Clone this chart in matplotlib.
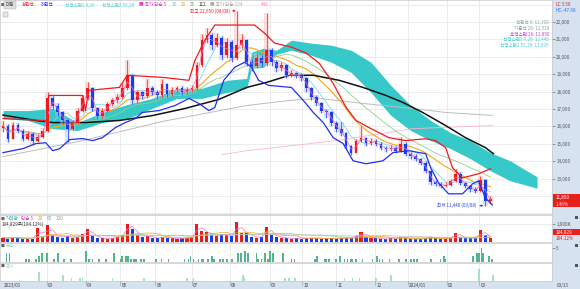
import numpy as np
import pandas as pd
import matplotlib
matplotlib.use("Agg")
import matplotlib.pyplot as plt
from matplotlib.patches import Rectangle

plt.rcParams['font.family'] = ['Noto Sans CJK KR', 'DejaVu Sans']

# ---------------- data (price samples ~every 3 trading days) ----------------
first_open = 15900
close = [16050, 15300, 16100, 15760, 15300, 15580, 15180, 15410, 15760, 17610,
         17200, 16800, 16340, 15870, 16220, 16910, 17610, 18190, 17030, 16620,
         16910, 17260, 17490, 17670, 18190, 18940, 17490, 17950, 17720, 18190,
         17950, 17780, 18420, 17840, 18070, 18190, 17950, 18070, 18190, 19510,
         20960, 21250, 20670, 21080, 20090, 20840, 19920, 20670, 20960, 19690,
         19460, 19920, 19630, 20380, 19690, 19340, 19510, 18940, 19050, 18940,
         18760, 18190, 17670, 17320, 16910, 16800, 16220, 15870, 15640, 14890,
         14490, 15180, 15350, 15060, 15180, 15010, 14780, 14720, 14780, 14600,
         15010, 14430, 14310, 14140, 13910, 13450, 12810, 12690, 12580, 12640,
         12870, 13270, 12750, 12580, 12400, 12290, 12930, 11710, 11850]
high = [16300, 16150, 16250, 16200, 15850, 15750, 15650, 15550, 15900, 17950,
        17750, 17350, 16900, 16400, 16350, 17050, 17800, 18550, 18250, 17100,
        17050, 17400, 17650, 17850, 18500, 19800, 19000, 18100, 18050, 18700,
        18300, 18100, 18700, 18500, 18250, 18350, 18300, 18250, 18400, 19700,
        21300, 21650, 21400, 21350, 21200, 21100, 20950, 22650, 21300, 21050,
        19900, 20200, 20100, 22500, 20500, 19800, 19700, 19600, 19250, 19150,
        19050, 18850, 18250, 17800, 17400, 17000, 16900, 16300, 16250, 15700,
        14950, 15300, 16050, 15400, 15350, 15250, 15100, 14900, 14950, 14850,
        15400, 15100, 14500, 14400, 14200, 14000, 13500, 12900, 12800, 12800,
        13000, 13550, 13350, 12800, 12650, 12500, 13150, 12950, 12000]
low = [15700, 15100, 15250, 15600, 15150, 15200, 14950, 15100, 15350, 15700,
       17000, 16600, 16150, 15100, 15800, 16150, 16850, 17500, 16900, 16450,
       16500, 16800, 17150, 17350, 17600, 18100, 17300, 17350, 17550, 17650,
       17800, 17550, 17700, 17700, 17750, 18000, 17800, 17850, 18000, 18100,
       19400, 20800, 20400, 20550, 19800, 19950, 19700, 19800, 20500, 19500,
       19200, 19350, 19400, 19500, 19500, 19100, 19200, 18800, 18850, 18800,
       18600, 17950, 17500, 17150, 16750, 16500, 16050, 15700, 15450, 14700,
       14350, 14450, 15100, 14900, 14950, 14850, 14650, 14550, 14600, 14450,
       14550, 14300, 14150, 14000, 13750, 13300, 12650, 12550, 12450, 12500,
       12550, 12800, 12600, 12450, 12250, 12150, 12250, 11440, 11550]
volume_k = [250, 180, 300, 200, 150, 220, 180, 780, 260, 950,
            400, 300, 250, 350, 200, 300, 450, 700, 400, 250,
            200, 180, 220, 300, 400, 1000, 750, 400, 300, 350,
            250, 200, 300, 250, 200, 180, 200, 250, 300, 1000,
            600, 550, 400, 350, 450, 400, 350, 1100, 500, 500,
            300, 250, 300, 850, 400, 300, 250, 200, 180, 200,
            150, 250, 200, 250, 180, 200, 220, 180, 250, 200,
            250, 350, 550, 300, 250, 200, 180, 150, 200, 180,
            300, 200, 150, 180, 150, 200, 300, 200, 180, 200,
            250, 500, 300, 200, 250, 200, 650, 400, 195]

# channel lines (상한선 / 하한선)
upper_x = [0, 8, 8.8, 9.2, 16, 16.6, 17.2, 23.4, 25, 32, 37.4, 38.6, 40.6, 42.6, 50.6,
           52.6, 54.6, 58, 61, 63.6, 66.4, 69, 71, 73.6, 77.6, 81, 85, 87, 89, 90.4,
           92.4, 95.6, 98]
upper_v = [16450, 16340, 16340, 17780, 17780, 16910, 18070, 18240, 18940, 18820, 18650,
           19800, 20960, 21830, 21830, 21360, 20790, 20560, 20210, 19630, 18470, 17090,
           16340, 15930, 15350, 15180, 15290, 15180, 14780, 13620, 13040, 13270, 13560]
lower_x = [0, 4, 6.6, 8.6, 10, 11.4, 13.4, 16, 18, 20, 22.6, 24.6, 26.6, 28, 31.4, 34.6,
           37.4, 39.4, 41.4, 42.6, 44.4, 46.6, 48.6, 50, 51.4, 53.4, 58, 60.4, 62.4, 64.4,
           66.4, 68.4, 70.4, 73, 76.4, 78.4, 81.6, 85, 86, 87.6, 89.6, 92.4, 94.4, 95.6,
           97, 98.4]
lower_v = [14490, 14720, 15010, 15060, 14600, 14720, 15240, 15300, 15180, 15350, 15930,
           16220, 16450, 16800, 16910, 17200, 17610, 17320, 16910, 17090, 18650, 19400,
           19690, 19400, 18650, 18360, 18240, 17490, 16800, 16220, 15350, 15010, 14020,
           13850, 14020, 14490, 14600, 14430, 13620, 12750, 12120, 12120, 12690, 12870,
           11890, 11480]

# ichimoku cloud (선행스팬), incl. 26-day forward part
cloud_x = [0, 5, 10, 15, 20, 25, 30, 35, 40, 45, 49, 50, 52.4, 55, 58, 62, 66, 70, 74,
           78, 82, 86, 90, 94, 98, 102, 107.4]
span2 = [16910, 16910, 17030, 16220, 16800, 17260, 17610, 18190, 18190, 18650, 18760,
         20270, 20500, 20380, 20960, 20790, 20670, 20380, 19690, 18360, 17200, 16340,
         15640, 15180, 14490, 14020, 13095]
span1 = [16450, 16340, 15870, 15760, 16220, 16450, 17030, 17610, 17610, 17950, 18190,
         19340, 19400, 20150, 20380, 20090, 19690, 19110, 17950, 16630, 15760, 15180,
         14720, 14140, 13450, 12870, 12445]

# long moving averages
ma112_x = [0, 6.6, 10, 16.6, 23.4, 30, 36.6, 43.4, 49, 53, 57.6, 62.4, 67.6, 72.4, 77,
           80.4, 84.4, 89, 93, 97, 98.6]
ma112_v = [16650, 16340, 16220, 16220, 16340, 16620, 17030, 17550, 18240, 18530, 18940,
           18940, 18650, 18240, 17780, 17380, 16800, 16050, 15350, 14780, 14430]
ma224_x = [0, 16, 32, 49, 57.6, 63.6, 72.4, 82.4, 89, 98.4]
ma224_v = [14260, 15180, 16280, 17200, 17490, 17610, 17320, 17030, 16800, 16630]
ma448_x = [44, 49, 67, 82.4, 98.4]
ma448_v = [14370, 14600, 15180, 15870, 16050]

# news / disclosure counts (position in sample units, count)
news_pos = [0.7, 1.3, 4.7, 5.3, 6.7, 7.3, 7.9, 8.9, 10.3, 11, 12.2, 13.7, 16.7, 17.3, 18,
            19.3, 20.7, 22.3, 23.7, 24, 24.7, 25.2, 25.7, 26.3, 26.7, 27.7, 28.3, 30.8,
            31.9, 33.3, 36.5, 37.3, 37.7, 38.3, 39.3, 40, 40.3, 41.3, 42, 42.5, 43.7, 44.3,
            45, 46, 47.3, 47.9, 48.7, 49.2, 51, 51.3, 52, 52.7, 53.3, 53.7, 54.3, 56.3,
            58, 58.6, 62.7, 63.2, 64.7, 65, 65.5, 67, 67.7, 68.7, 69.3, 70, 70.3, 71, 72.3,
            74.3, 75.2, 75.7, 76.3, 77.7, 79.7, 81, 82, 82.7, 83.2, 86, 88, 88.7, 89, 94.5,
            95.3, 95.7, 96.2, 96.5, 97.7, 98.3]
news_cnt = [3, 3, 1, 1, 1, 2, 3, 3, 1, 3, 1, 1, 4, 1, 1,
            1, 1, 3, 1, 2, 2, 2, 1, 1, 1, 1, 1, 1,
            1, 1, 1, 1, 2, 1, 1, 1, 1, 1, 2, 1, 1, 1,
            1, 1, 3, 3, 4, 3, 3, 1, 1, 3, 1, 4, 3, 3,
            1, 1, 1, 2, 1, 1, 1, 1, 2, 1, 1, 1, 1, 1, 1,
            1, 2, 1, 1, 1, 1, 1, 1, 1, 1, 1, 1, 2, 1, 2,
            3, 3, 5, 3, 2, 1]
disc_pos = [7.3, 12, 13.8, 15.5, 16, 22, 28.3, 37, 38.3, 48.3, 48.5, 56.7, 57.5, 58.7,
            68.7, 70.3, 71.7, 75, 78, 95.7, 98.5]
disc_cnt = [3, 2, 1, 1, 1, 1, 1, 1, 1, 2, 1, 1, 1, 1, 1, 1, 1, 1, 2, 4, 2]

month_pos = [0, 8.8, 16.6, 23.6, 30.6, 38.0, 45.6, 53.6, 60.2, 67.0, 74.8, 81.4, 89.2, 95.8]
month_lbl = ['2023/01', '03', '04', '05', '06', '07', '08', '09', '10', '11', '12',
             '2024/01', '02', '03']

# ---------------- derived ----------------
n = len(close)
xs = np.arange(n)
opens = np.array([first_open] + close[:-1])
closes = np.array(close)
s = pd.Series(closes)
ma5 = s.rolling(2, min_periods=1).mean()
ma15 = s.rolling(5, min_periods=1).mean()
ma33 = s.rolling(11, min_periods=1).mean()
ma55 = s.rolling(19, min_periods=1).mean()
vs = pd.Series(volume_k)

RED = '#f01818'
BLUE = '#1a3cf0'
up = closes >= opens
ccol = np.where(up, RED, BLUE)
ccol_l = np.where(up, '#ffb0b0', '#a9b8ff')

# ---------------- figure ----------------
W, H = 580, 289
FS = 3.3
fig = plt.figure(figsize=(W / 100, H / 100), dpi=100)
fig.patch.set_facecolor('white')


def add_ax(x0, y0, x1, y1):
    return fig.add_axes([x0 / W, 1 - y1 / H, (x1 - x0) / W, (y1 - y0) / H])


def ftext(x, y, s_, **kw):
    kw.setdefault('fontsize', FS)
    kw.setdefault('va', 'center')
    return fig.text(x / W, 1 - y / H, s_, **kw)


STRIP = '#d7e2f0'
fig.add_artist(Rectangle((552 / W, 0), 28 / W, 1, transform=fig.transFigure,
                         facecolor=STRIP, edgecolor='none', zorder=0))
fig.add_artist(Rectangle((0, 0), 1, 8 / H, transform=fig.transFigure,
                         facecolor=STRIP, edgecolor='none', zorder=0))

XL = (-0.6, 110.4)
GRID = '#e4e4e4'


def style_panel(a):
    a.set_xlim(*XL)
    a.set_xticks([])
    for sp in a.spines.values():
        sp.set_color('#c8c8c8')
        sp.set_linewidth(0.5)
    for mp in month_pos[1:]:
        a.axvline(mp, color=GRID, lw=0.5, zorder=0)


# main price panel
ax = add_ax(0, 0, 552, 214)
style_panel(ax)
ax.set_ylim(10960, 23270)
for p in range(11000, 23001, 1000):
    ax.axhline(p, color=GRID, lw=0.5, zorder=0)

ax.fill_between(cloud_x, span1, span2, color='#37c9c9', lw=0, zorder=1)
ax.plot(ma448_x, ma448_v, color='#ffb3cf', lw=0.6, zorder=2)
ax.plot(ma224_x, ma224_v, color='#bdbdbd', lw=0.7, zorder=2)
ax.plot(xs, ma55, color='#8fd08f', lw=0.6, zorder=2)
ax.plot(xs, ma33, color='#f3a712', lw=0.8, zorder=2)
ax.plot(xs, ma15, color='#7fd3f0', lw=0.6, zorder=2)
ax.plot(ma112_x, ma112_v, color='#111111', lw=1.1, zorder=3)

# candles (soft shadow + body)
ax.bar(xs, np.array(high) - np.array(low), bottom=low, width=0.95, color=ccol_l,
       alpha=0.45, lw=0, zorder=3.5)
ax.vlines(xs, low, high, colors=ccol, lw=0.5, zorder=4)
body = np.maximum(np.abs(closes - opens), 25)
ax.bar(xs, body, bottom=np.minimum(opens, closes), width=0.55, color=ccol, lw=0, zorder=4)
ax.plot(xs, ma5, color='#f070d0', lw=0.5, zorder=5)

ax.plot(upper_x, upper_v, color='#ee1c1c', lw=0.9, zorder=5)
ax.plot(lower_x, lower_v, color='#1f2ff0', lw=0.9, zorder=5)

ax.annotate('최고 22,650 (08/08)', xy=(46.8, 22650), xytext=(45.6, 22650),
            fontsize=FS, color='#f02020', ha='right', va='center',
            arrowprops=dict(arrowstyle='-|>', color='#f02020', lw=0.5,
                            mutation_scale=3, shrinkA=0, shrinkB=0), zorder=6)
ax.annotate('최저 11,440 (03/08)', xy=(96.6, 11440), xytext=(95.3, 11440),
            fontsize=FS, color='#2040f0', ha='right', va='center',
            arrowprops=dict(arrowstyle='-|>', color='#2040f0', lw=0.5,
                            mutation_scale=3, shrinkA=0, shrinkB=0), zorder=6)

ax.yaxis.tick_right()
yt = list(range(12000, 22001, 1000))
ax.set_yticks(yt)
ax.set_yticklabels([f'{v:,}' for v in yt])
ax.tick_params(axis='y', length=2, width=0.4, pad=1, labelsize=FS,
               colors='#555555', direction='out')

# volume panel
axv = add_ax(0, 215, 552, 242)
style_panel(axv)
axv.set_ylim(0, 1500)
axv.axhline(1000, color=GRID, lw=0.5, zorder=0)
axv.bar(xs, volume_k, width=0.62, color=ccol, lw=0, zorder=2)
axv.plot(xs, vs.rolling(2, min_periods=1).mean(), color='#f070d0', lw=0.5, zorder=3)
axv.plot(xs, vs.rolling(7, min_periods=1).mean(), color='#f3a712', lw=0.5, zorder=3)
axv.plot(xs, vs.rolling(20, min_periods=1).mean(), color='#8fd08f', lw=0.5, zorder=3)
axv.plot(xs, vs.rolling(40, min_periods=1).mean(), color='#bdbdbd', lw=0.5, zorder=3)
axv.yaxis.tick_right()
axv.set_yticks([1000])
axv.set_yticklabels(['1,000K'])
axv.tick_params(axis='y', length=2, width=0.4, pad=1, labelsize=FS, colors='#555555')

# news panel
axn = add_ax(0, 243, 552, 262)
style_panel(axn)
axn.set_ylim(0, 6.7)
axn.bar(news_pos, news_cnt, width=0.35, color='#52b68a', lw=0, zorder=2)
axn.yaxis.tick_right()
axn.set_yticks([5])
axn.set_yticklabels(['5'])
axn.tick_params(axis='y', length=2, width=0.4, pad=1, labelsize=FS, colors='#555555')

# disclosure panel
axd = add_ax(0, 263, 552, 281)
style_panel(axd)
axd.set_ylim(0, 6)
axd.bar(disc_pos, disc_cnt, width=0.35, color='#a6e0c8', lw=0, zorder=2)
axd.set_yticks([])

# x axis labels in bottom strip
axx = add_ax(0, 281, 552, 289)
axx.set_xlim(*XL)
axx.set_ylim(0, 1)
axx.axis('off')
for mp, lb in zip(month_pos, month_lbl):
    if mp > 0:
        axx.plot([mp, mp], [0.55, 1], color='#8899aa', lw=0.4)
    axx.text(mp + 0.25, 0.45, lb, fontsize=FS, color='#444444', va='center', ha='left')
ftext(557, 285, '03/13', color='#444444')

# top legend
ftext(0.5, 5, '■', color='#666666', fontsize=2.8)
fig.add_artist(Rectangle((4 / W, 1 - 9 / H), 12 / W, 8 / H, transform=fig.transFigure,
                         facecolor='#dddddd', edgecolor='#aaaaaa', lw=0.3, zorder=5))
ftext(5.3, 5, '대칭', color='#444444', zorder=6)
ftext(22, 5, '상한선', color='#ee2020')
ftext(41, 5, '하한선', color='#2030ee')
ftext(65, 5, '선행스팬1 9,26', color='#5ccfcf')
ftext(102, 5, '선행스팬2 52,26', color='#5ccfcf')
ftext(139, 5, '■ 종가 단순 5', color='#e040c0')
ftext(172, 5, '15', color='#4fc3ee')
ftext(181, 5, '33', color='#f0a010')
ftext(190, 5, '55', color='#66bb66')
ftext(199, 5, '112', color='#333333')
ftext(210, 5, '■ 종가 단순 224', color='#aaaaaa')
ftext(261, 5, '448', color='#ff88bb')
fig.add_artist(Rectangle((3 / W, 1 - 17 / H), 5 / W, 5 / H, transform=fig.transFigure,
                         facecolor='#e6e6e6', edgecolor='#999999', lw=0.3, zorder=5))

# right legend values
ftext(549, 22, '전환선 9: 12,300', color='#78b89a', ha='right')
ftext(549, 28, '기준선 26: 12,510', color='#999999', ha='right')
ftext(549, 34, '후행스팬 26: 11,850', color='#c040d8', ha='right')
ftext(549, 39.5, '선행스팬1 9,26: 12,445', color='#4cc8d8', ha='right')
ftext(549, 45, '선행스팬2 52,26: 13,095', color='#4cc8d8', ha='right')

ftext(555, 5, 'LC:3.58', color='#e03030')
ftext(555, 11, 'HC:-47.68', color='#3070e0')

# last price box
fig.add_artist(Rectangle((553 / W, 1 - 207 / H), 27 / W, 13 / H, transform=fig.transFigure,
                         facecolor='#e8201c', edgecolor='none', zorder=5))
ftext(556, 197.5, '11,850', color='white', zorder=6)
ftext(556, 204, '1.46%', color='#ffdede', zorder=6)

# volume texts
ftext(0.5, 219, '■', color='#666666', fontsize=2.8)
ftext(6, 219, '거래량', color='#3aa8a8')
ftext(21, 219, '단순 5', color='#e040c0')
ftext(38, 219, '20', color='#f0a010')
ftext(47, 219, '60', color='#66bb66')
ftext(56, 219, '120', color='#999999')
ftext(2, 224.5, '194,829주(184.12%)', color='#333333')
fig.add_artist(Rectangle((553 / W, 1 - 235 / H), 27 / W, 6 / H, transform=fig.transFigure,
                         facecolor='#e8201c', edgecolor='none', zorder=5))
ftext(556, 232, '194,829', color='white', zorder=6)
ftext(556, 238, '184.12%', color='#e02020')

ftext(0.5, 245.5, '■', color='#666666', fontsize=2.8)
ftext(6, 245.5, '뉴스', color='#7cc8a0')
ftext(0.5, 266, '■', color='#666666', fontsize=2.8)
ftext(6, 266, '공시', color='#9ad8bc')

for yy in (217, 245, 265):
    fig.add_artist(Rectangle((575 / W, 1 - (yy + 1.5) / H), 3 / W, 3 / H,
                             transform=fig.transFigure, facecolor='#555555',
                             edgecolor='none', zorder=5))

fig.savefig('out.png', dpi=100, facecolor='white')
